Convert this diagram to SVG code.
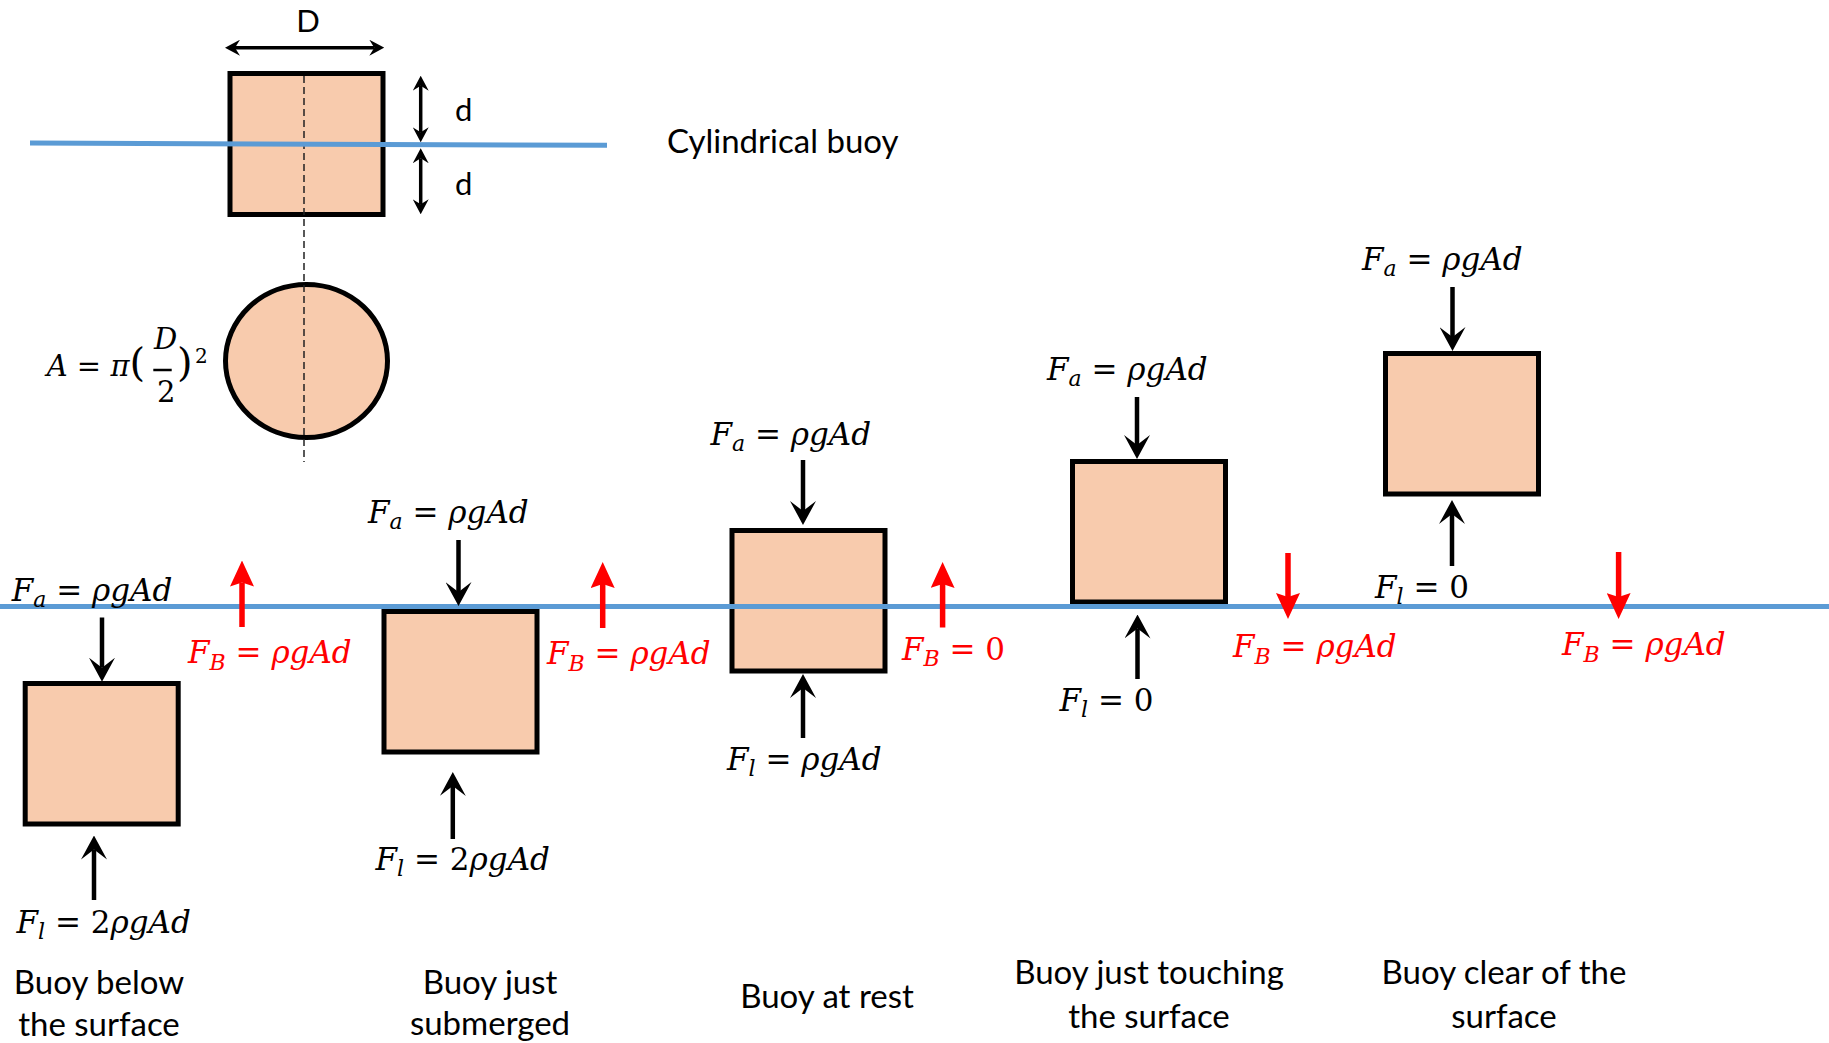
<svg xmlns="http://www.w3.org/2000/svg" width="1829" height="1043" viewBox="0 0 1829 1043">
  <style>
    .box { fill: #F8CBAD; stroke: #000; stroke-width: 5; }
    .water { stroke: #5B9BD5; stroke-width: 5; fill: none; }
    .dash { stroke: #222; stroke-width: 1.5; stroke-dasharray: 7 4; fill: none; }
    .blk { stroke: #000; stroke-width: 4.5; fill: none; marker-end: url(#ahB); }
    .red { stroke: #FF0000; stroke-width: 5.5; fill: none; marker-end: url(#ahR); }
    .dim { stroke: #000; stroke-width: 3.5; fill: none; marker-start: url(#ahS); marker-end: url(#ahS); }
    .m { font-family: "DejaVu Serif", "Liberation Serif", serif; font-style: italic; font-size: 31px; fill: #000; }
    .m.r { fill: #FF0000; }
    .u { font-style: normal; }
    .sub { font-size: 22px; }
    .cap { font-family: Lato, "Liberation Sans", sans-serif; font-size: 33px; fill: #000; text-anchor: middle; }
    .title { font-family: Lato, "Liberation Sans", sans-serif; font-size: 33px; fill: #000; }
    .lbl { font-family: Lato, "Liberation Sans", sans-serif; font-size: 31px; fill: #000; }
  </style>
  <defs>
    <marker id="ahB" markerUnits="userSpaceOnUse" viewBox="0 0 24 26" markerWidth="24" markerHeight="26" refX="10" refY="13" orient="auto">
      <path d="M0,0 L24,13 L0,26 L10,13 Z" fill="#000"/>
    </marker>
    <marker id="ahR" markerUnits="userSpaceOnUse" viewBox="0 0 26 24" markerWidth="26" markerHeight="24" refX="4" refY="12" orient="auto">
      <path d="M0,0 L26,12 L0,24 L4,12 Z" fill="#FF0000"/>
    </marker>
    <marker id="ahS" markerUnits="userSpaceOnUse" viewBox="0 0 15 16" markerWidth="15" markerHeight="16" refX="5" refY="8" orient="auto-start-reverse">
      <path d="M0,0 L15,8 L0,16 L5,8 Z" fill="#000"/>
    </marker>
  </defs>

  <rect width="1829" height="1043" fill="#FFFFFF"/>

  <!-- Cylindrical buoy definition -->
  <g id="cylinder">
    <rect class="box" x="230" y="73.5" width="153" height="141"/>
    <ellipse class="box" cx="306.5" cy="361" rx="81" ry="76.5"/>
    <line class="dash" x1="304" y1="76" x2="304" y2="462"/>
    <line class="water" x1="30" y1="143" x2="607" y2="145.3"/>
    <text class="lbl" x="308" y="32" text-anchor="middle">D</text>
    <text class="lbl" x="455" y="121">d</text>
    <text class="lbl" x="455" y="195">d</text>
    <text class="title" x="667" y="153">Cylindrical buoy</text>
    <text class="m" x="46.7" y="376" style="font-size:29px">A<tspan class="u"> = </tspan>π<tspan class="u" style="font-size:40px">(</tspan></text>
    <text class="m" x="154" y="349" style="font-size:29px">D</text>
    <text class="m u" x="157" y="401.7" style="font-size:29px">2</text>
    <text class="m u" x="177" y="376" style="font-size:40px">)<tspan x="195" y="363" style="font-size:20px">2</tspan></text>
    <line x1="153.3" y1="370" x2="171.7" y2="370" stroke="#000" stroke-width="2.5"/>
  </g>

  <!-- buoy boxes -->
  <g id="buoy-below">
    <rect class="box" x="25.2" y="683.5" width="153" height="140.5"/>
    <text class="cap" x="99" y="994">Buoy below</text>
    <text class="cap" x="99" y="1035.5">the surface</text>
  </g>
  <g id="buoy-submerged">
    <rect class="box" x="384" y="611.5" width="153" height="140.5"/>
    <text class="cap" x="490" y="994">Buoy just</text>
    <text class="cap" x="490" y="1035">submerged</text>
  </g>
  <g id="buoy-rest">
    <rect class="box" x="732" y="530.5" width="153" height="140.5"/>
    <text class="cap" x="827" y="1008">Buoy at rest</text>
  </g>
  <g id="buoy-touching">
    <rect class="box" x="1072.5" y="461.5" width="153" height="140.5"/>
    <text class="cap" x="1149" y="984">Buoy just touching</text>
    <text class="cap" x="1149" y="1027.5">the surface</text>
  </g>
  <g id="buoy-clear">
    <rect class="box" x="1385.5" y="353.5" width="153" height="140.5"/>
    <text class="cap" x="1504" y="984">Buoy clear of the</text>
    <text class="cap" x="1504" y="1027.5">surface</text>
  </g>

  <!-- water surface -->
  <line class="water" x1="0" y1="606.6" x2="1829" y2="606.6"/>

  <!-- force arrows -->
  <g id="connectors">
    <line class="dim" x1="235" y1="47.7" x2="374.3" y2="47.7"/>
    <line class="dim" x1="420.7" y1="85.7" x2="420.7" y2="132.3"/>
    <line class="dim" x1="420.7" y1="158.3" x2="420.7" y2="204.3"/>

    <line class="blk" x1="102" y1="617.5" x2="102" y2="667.7"/>
    <line class="blk" x1="458.5" y1="540" x2="458.5" y2="592"/>
    <line class="blk" x1="803" y1="460" x2="803" y2="511"/>
    <line class="blk" x1="1137" y1="397" x2="1137" y2="445"/>
    <line class="blk" x1="1452.5" y1="287" x2="1452.5" y2="337"/>

    <line class="blk" x1="94" y1="900" x2="94" y2="849.5"/>
    <line class="blk" x1="452.8" y1="839" x2="452.8" y2="786"/>
    <line class="blk" x1="803" y1="738" x2="803" y2="688"/>
    <line class="blk" x1="1137.5" y1="679" x2="1137.5" y2="628.5"/>
    <line class="blk" x1="1452" y1="566" x2="1452" y2="514"/>

    <line class="red" x1="242" y1="627" x2="242" y2="582.5"/>
    <line class="red" x1="602.7" y1="628" x2="602.7" y2="584"/>
    <line class="red" x1="942.6" y1="627.5" x2="942.6" y2="584"/>
    <line class="red" x1="1288" y1="553" x2="1288" y2="597"/>
    <line class="red" x1="1618.6" y1="552" x2="1618.6" y2="597"/>
  </g>

  <!-- force labels -->
  <g id="labels">
    <text class="m" x="11.7" y="600.7">F<tspan class="sub" dy="6">a</tspan><tspan class="u" dy="-6"> = </tspan>ρgAd</text>
    <text class="m" x="368" y="523">F<tspan class="sub" dy="6">a</tspan><tspan class="u" dy="-6"> = </tspan>ρgAd</text>
    <text class="m" x="710.4" y="444.5">F<tspan class="sub" dy="6">a</tspan><tspan class="u" dy="-6"> = </tspan>ρgAd</text>
    <text class="m" x="1047" y="380">F<tspan class="sub" dy="6">a</tspan><tspan class="u" dy="-6"> = </tspan>ρgAd</text>
    <text class="m" x="1362" y="270">F<tspan class="sub" dy="6">a</tspan><tspan class="u" dy="-6"> = </tspan>ρgAd</text>

    <text class="m" x="16.5" y="933">F<tspan class="sub" dy="6">l</tspan><tspan class="u" dy="-6"> = 2</tspan>ρgAd</text>
    <text class="m" x="375.6" y="869.5">F<tspan class="sub" dy="6">l</tspan><tspan class="u" dy="-6"> = 2</tspan>ρgAd</text>
    <text class="m" x="727" y="770">F<tspan class="sub" dy="6">l</tspan><tspan class="u" dy="-6"> = </tspan>ρgAd</text>
    <text class="m" x="1059.5" y="710.5">F<tspan class="sub" dy="6">l</tspan><tspan class="u" dy="-6"> = 0</tspan></text>
    <text class="m" x="1375" y="598">F<tspan class="sub" dy="6">l</tspan><tspan class="u" dy="-6"> = 0</tspan></text>

    <text class="m r" x="188" y="663">F<tspan class="sub" dy="6.5">B</tspan><tspan class="u" dy="-6.5"> = </tspan>ρgAd</text>
    <text class="m r" x="547" y="664">F<tspan class="sub" dy="6.5">B</tspan><tspan class="u" dy="-6.5"> = </tspan>ρgAd</text>
    <text class="m r" x="902" y="659.5">F<tspan class="sub" dy="6.5">B</tspan><tspan class="u" dy="-6.5"> = 0</tspan></text>
    <text class="m r" x="1233" y="657">F<tspan class="sub" dy="6.5">B</tspan><tspan class="u" dy="-6.5"> = </tspan>ρgAd</text>
    <text class="m r" x="1562" y="655">F<tspan class="sub" dy="6.5">B</tspan><tspan class="u" dy="-6.5"> = </tspan>ρgAd</text>
  </g>
</svg>
